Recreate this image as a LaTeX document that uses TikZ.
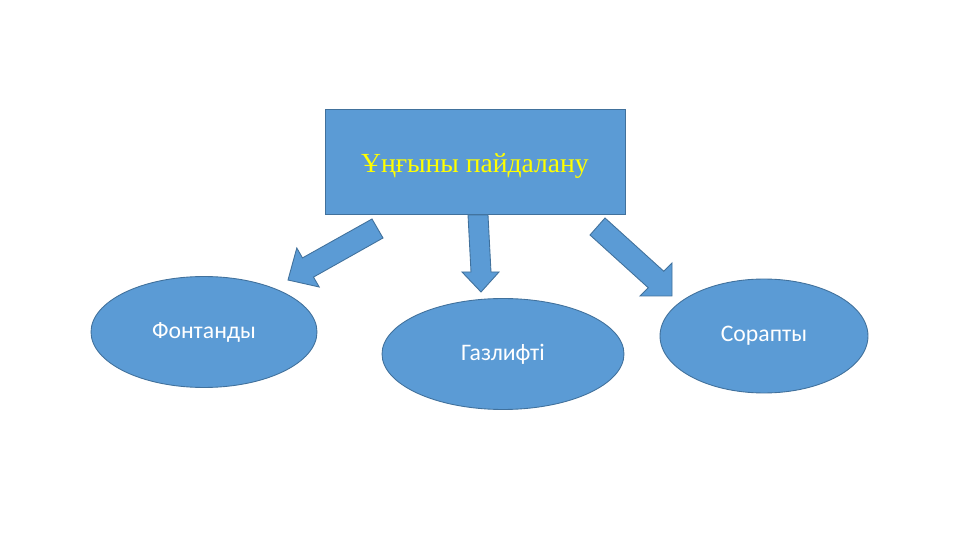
\documentclass[tikz,border=0pt]{standalone}
\usepackage{fontspec}
\setmainfont{Liberation Serif}
\newfontfamily\calib{Carlito}
\usetikzlibrary{shapes.geometric}
\definecolor{boxfill}{HTML}{5B9BD5}
\definecolor{boxline}{HTML}{41719C}
\definecolor{titleyellow}{HTML}{FFFF00}
\tikzset{
  shapefill/.style={fill=boxfill, draw=boxline, line width=0.5pt},
  oval/.style={shapefill, ellipse, inner sep=0pt, text=white, font=\calib\fontsize{13.5}{16}\selectfont},
  blockarrow/.style={shapefill, line join=miter}
}
\begin{document}
\begin{tikzpicture}[x=0.02cm, y=-0.02cm]
\useasboundingbox (0,0) rectangle (960,540);
\fill[white] (0,0) rectangle (960,540);
% top box
\node[shapefill, rectangle, minimum width=6cm, minimum height=2.1cm, inner sep=0pt] (top) at (475,161.5) {};
\node[text=titleyellow, font=\fontsize{15.7}{18}\selectfont, inner sep=0pt] (toptext) at (475,166) {Ұңғыны пайдалану};
% ellipses
\node[oval, minimum width=4.52cm, minimum height=2.22cm] (e1) at (204,332) {Фонтанды};
\node[oval, minimum width=4.84cm, minimum height=2.22cm] (e2) at (503,354) {Газлифті};
\node[oval, minimum width=4.16cm, minimum height=2.28cm] (e3) at (764,336) {Сорапты};
% block arrows
\draw[blockarrow] (372,219) -- (302.5,257.9) -- (296.8,248) -- (288,280) -- (319.2,287) -- (313.5,277.1) -- (383,238) -- cycle;
\draw[blockarrow] (468,215) -- (488,215) -- (491,272) -- (499,272) -- (481,292) -- (462,272) -- (471,272) -- cycle;
\draw[blockarrow] (605,218) -- (663.7,271.2) -- (672,263) -- (672,296) -- (640,296) -- (648.3,287.8) -- (590,235) -- cycle;
\end{tikzpicture}
\end{document}
